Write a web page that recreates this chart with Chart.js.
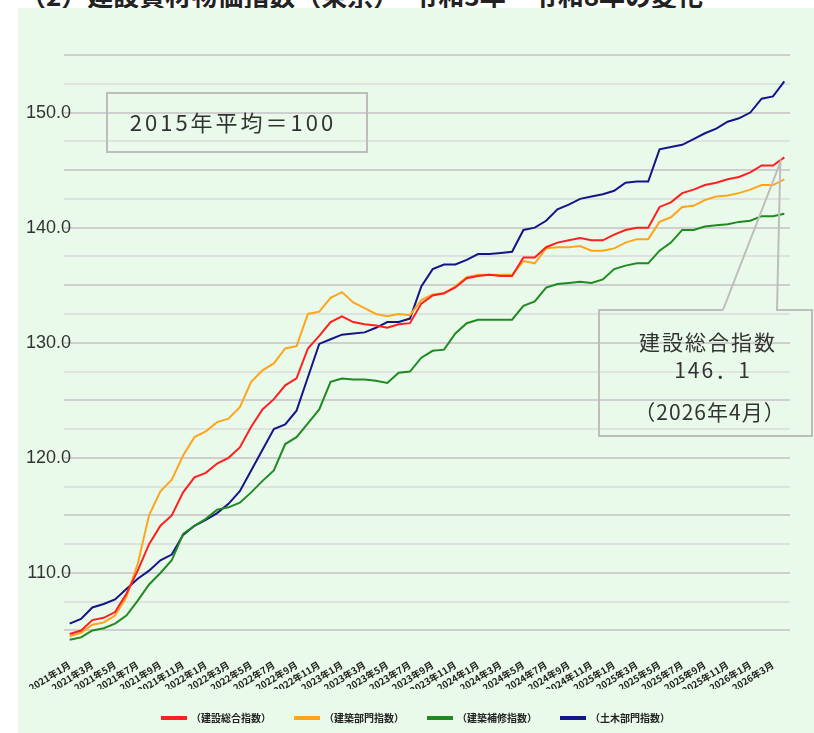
<!DOCTYPE html>
<html lang="ja">
<head>
<meta charset="utf-8">
<script src="https://cdn.jsdelivr.net/npm/chart.js"></script>
<style>
  html, body { margin: 0; padding: 0; background: #fff; width: 814px; height: 733px; overflow: hidden; }
  #title { position: absolute; left: 20px; top: -18px; font: bold 26px/26px "Noto Sans CJK JP", sans-serif; color: #222; white-space: nowrap; }
  #wrap { position: absolute; left: 18px; top: 8px; width: 796px; height: 725px; background: #eafaea; }
</style>
</head>
<body>
<div id="title">（2）建設資材物価指数（東京）　令和3年～令和8年の変化</div>
<div id="wrap"><canvas id="chart" width="796" height="725"></canvas></div>
<script>
// 2021年1月 ～ 2026年4月（月次）
const months = [];
for (let y = 2021; y <= 2026; y++) {
  for (let m = 1; m <= 12; m++) {
    if (y === 2026 && m > 4) break;
    months.push(y + '年' + m + '月');
  }
}

const seriesNames = ['（建設総合指数）', '（建築部門指数）', '（建築補修指数）', '（土木部門指数）'];
const seriesColors = ['#ff1f1f', '#ffa41c', '#1f8a1f', '#15158a'];

// 建設総合指数
const sougou = [104.7, 105.0, 105.9, 106.1, 106.6, 108.2, 110.2, 112.5, 114.1, 115.0, 117.0, 118.3,
  118.7, 119.5, 120.0, 120.9, 122.7, 124.2, 125.1, 126.3, 126.9, 129.5, 130.6, 131.8,
  132.3, 131.8, 131.6, 131.5, 131.3, 131.6, 131.7, 133.4, 134.1, 134.3, 134.8, 135.6,
  135.8, 135.9, 135.8, 135.8, 137.4, 137.4, 138.3, 138.7, 138.9, 139.1, 138.9, 138.9,
  139.4, 139.8, 140.0, 140.0, 141.8, 142.2, 143.0, 143.3, 143.7, 143.9, 144.2, 144.4,
  144.8, 145.4, 145.4, 146.1];
// 建築部門指数
const kenchiku = [104.5, 104.8, 105.5, 105.7, 106.3, 107.9, 110.8, 115.0, 117.1, 118.1, 120.2, 121.8,
  122.3, 123.1, 123.4, 124.4, 126.6, 127.6, 128.2, 129.5, 129.7, 132.5, 132.7, 133.9,
  134.4, 133.5, 133.0, 132.5, 132.3, 132.5, 132.4, 133.7, 134.2, 134.3, 134.9, 135.7,
  135.9, 135.9, 135.9, 135.9, 137.1, 136.9, 138.2, 138.3, 138.3, 138.4, 138.0, 138.0,
  138.2, 138.7, 139.0, 139.0, 140.5, 140.9, 141.8, 141.9, 142.4, 142.7, 142.8, 143.0,
  143.3, 143.7, 143.7, 144.2];
// 建築補修指数
const hoshu = [104.2, 104.4, 105.0, 105.2, 105.6, 106.3, 107.6, 109.0, 110.0, 111.1, 113.4, 114.1,
  114.7, 115.5, 115.7, 116.1, 117.0, 118.0, 118.9, 121.2, 121.8, 123.0, 124.2, 126.6,
  126.9, 126.8, 126.8, 126.7, 126.5, 127.4, 127.5, 128.7, 129.3, 129.4, 130.8, 131.7,
  132.0, 132.0, 132.0, 132.0, 133.2, 133.6, 134.8, 135.1, 135.2, 135.3, 135.2, 135.5,
  136.4, 136.7, 136.9, 136.9, 138.0, 138.7, 139.8, 139.8, 140.1, 140.2, 140.3, 140.5,
  140.6, 141.0, 141.0, 141.2];
// 土木部門指数
const doboku = [105.6, 106.0, 107.0, 107.3, 107.7, 108.6, 109.5, 110.2, 111.1, 111.6, 113.3, 114.1,
  114.6, 115.2, 116.0, 117.1, 118.9, 120.7, 122.5, 122.9, 124.1, 127.0, 129.9, 130.3,
  130.7, 130.8, 130.9, 131.3, 131.8, 131.8, 132.1, 134.9, 136.4, 136.8, 136.8, 137.2,
  137.7, 137.7, 137.8, 137.9, 139.8, 140.0, 140.6, 141.6, 142.0, 142.5, 142.7, 142.9,
  143.2, 143.9, 144.0, 144.0, 146.8, 147.0, 147.2, 147.7, 148.2, 148.6, 149.2, 149.5,
  150.0, 151.2, 151.4, 152.7];

const gridValues = [105, 107.5, 110, 112.5, 115, 117.5, 120, 122.5, 125, 127.5, 130, 132.5,
  135, 137.5, 140, 142.5, 145, 147.5, 150, 152.5, 155];
const yTickLabels = { 110: '110.0', 120: '120.0', 130: '130.0', 140: '140.0', 150: '150.0' };

const baseNote = '2015年平均＝100';
const calloutLines = ['建設総合指数', '146．1', '（2026年4月）'];

const allSeries = [sougou, kenchiku, hoshu, doboku];

// 注記（枠・吹き出し）
const notesPlugin = {
  id: 'notes',
  afterDraw(chart) {
    const ctx = chart.ctx;
    ctx.save();
    ctx.strokeStyle = '#bdbdbd';
    ctx.lineWidth = 2;
    ctx.fillStyle = '#333';
    ctx.textAlign = 'center';
    ctx.textBaseline = 'middle';

    // 2015年平均＝100
    ctx.strokeRect(89, 85, 260, 59);
    ctx.font = '22px "Noto Sans CJK JP"';
    ctx.letterSpacing = '3px';
    ctx.fillText(baseNote, 215, 115);

    // 吹き出し
    const xs = chart.scales.x, ys = chart.scales.y;
    const last = sougou.length - 1;
    const tipX = xs.getPixelForValue(last) - 4;
    const tipY = ys.getPixelForValue(sougou[last]) + 5;
    ctx.beginPath();
    ctx.moveTo(705, 302);
    ctx.lineTo(581, 302);
    ctx.lineTo(581, 428);
    ctx.lineTo(794, 428);
    ctx.lineTo(794, 302);
    ctx.lineTo(759, 302);
    ctx.lineTo(tipX, tipY);
    ctx.lineTo(705, 302);
    ctx.stroke();

    ctx.font = '21px "Noto Sans CJK JP"';
    ctx.letterSpacing = '2px';
    ctx.fillText(calloutLines[0], 690, 334);
    ctx.fillText(calloutLines[1], 695, 362);
    ctx.letterSpacing = '1px';
    ctx.fillText(calloutLines[2], 692, 404);
    ctx.restore();
  }
};

new Chart(document.getElementById('chart'), {
  type: 'line',
  data: {
    labels: months,
    datasets: allSeries.map((d, i) => ({
      label: seriesNames[i],
      data: d,
      borderColor: seriesColors[i],
      backgroundColor: seriesColors[i],
      borderWidth: 2,
      pointRadius: 0,
      tension: 0
    }))
  },
  options: {
    responsive: false,
    animation: false,
    layout: { padding: { top: 47, right: 0, left: 0, bottom: 0 } },
    plugins: {
      legend: {
        position: 'bottom',
        labels: {
          boxWidth: 24,
          boxHeight: 2,
          padding: 24,
          color: '#222',
          font: { family: '"Noto Sans CJK JP"', size: 10, weight: 'bold' }
        }
      },
      tooltip: { enabled: false }
    },
    scales: {
      x: {
        offset: true,
        grid: { display: false },
        border: { display: false },
        afterFit(s) { s.height = 47; },
        ticks: {
          autoSkip: false,
          minRotation: 32,
          maxRotation: 32,
          padding: 9,
          color: '#222',
          font: { family: '"Noto Sans CJK JP"', size: 9.5, weight: 'bold' },
          callback(v, i) { return i % 2 === 0 ? months[i] : ''; }
        }
      },
      y: {
        min: 104,
        max: 155,
        afterFit(s) { s.width = 46; },
        afterBuildTicks(s) { s.ticks = gridValues.map(v => ({ value: v })); },
        border: { display: false },
        grid: {
          drawTicks: false,
          color: c => (c.tick && c.tick.value % 5 === 0) ? '#cfcfcf' : '#dfe3df',
          lineWidth: 2
        },
        ticks: {
          mirror: true,
          crossAlign: 'far',
          padding: -38,
          color: '#333',
          font: { family: '"Liberation Sans"', size: 18 },
          callback(v) { return yTickLabels[v] || ''; }
        }
      },
      // 右側の余白用（表示なし）
      yRight: {
        position: 'right',
        display: true,
        grid: { display: false },
        border: { display: false },
        ticks: { display: false },
        afterFit(s) { s.width = 24; }
      }
    }
  },
  plugins: [notesPlugin]
});
</script>
</body>
</html>
